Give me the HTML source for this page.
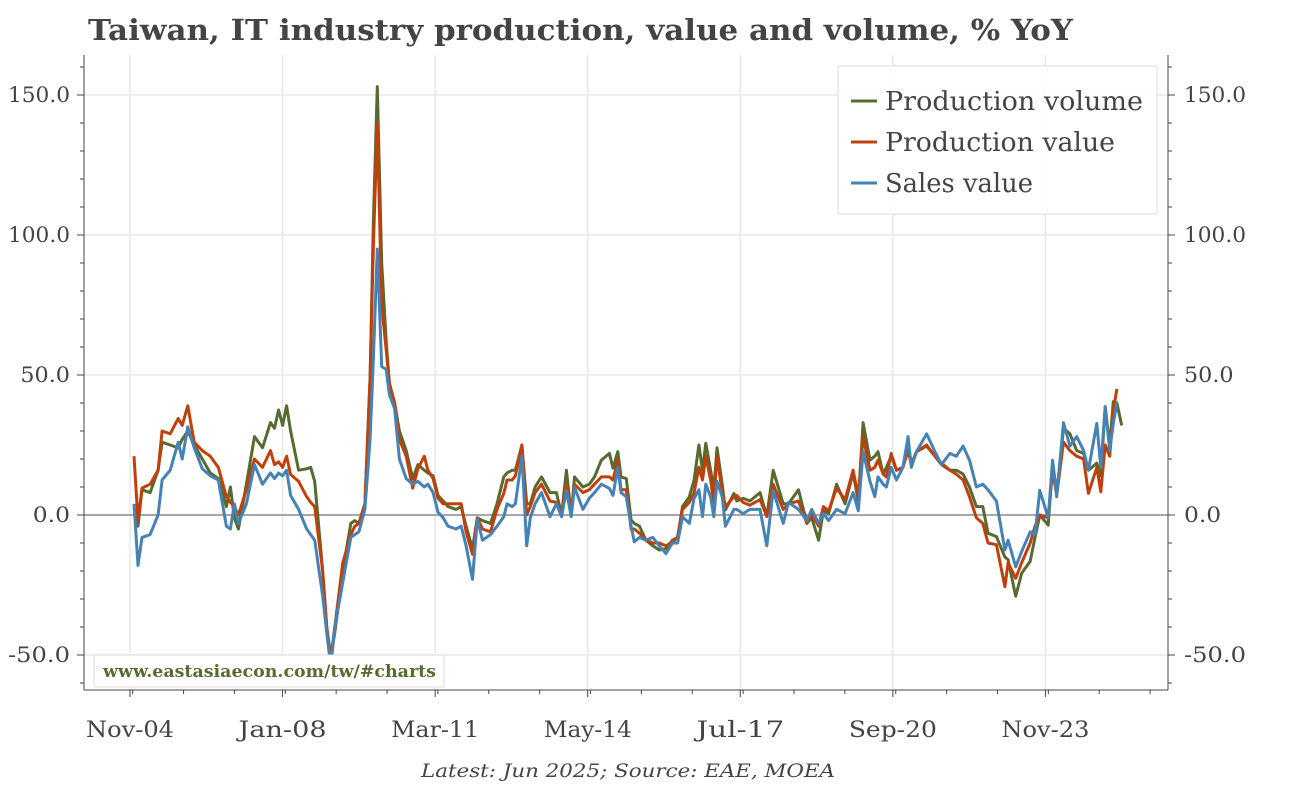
<!DOCTYPE html>
<html><head><meta charset="utf-8"><style>
html,body{margin:0;padding:0;background:#fff;}
svg{display:block;font-family:"DejaVu Serif","Liberation Serif",serif;}
</style></head><body>
<svg id="chart" width="1296" height="785" viewBox="0 0 1296 785" xmlns="http://www.w3.org/2000/svg">
<text x="88" y="40" font-size="29" font-weight="bold" fill="#444" textLength="985" lengthAdjust="spacingAndGlyphs">Taiwan, IT industry production, value and volume, % YoY</text>
<g id="grid"></g>
<g id="axes"></g>
<g id="series"></g>
<g>
<rect x="94" y="655" width="350" height="32" fill="#fff" stroke="#ddd"/>
<text x="103" y="677" font-size="16.5" font-weight="bold" fill="#556b2f" textLength="333" lengthAdjust="spacingAndGlyphs">www.eastasiaecon.com/tw/#charts</text>
</g>
<g>
<rect x="838" y="66" width="319" height="148" fill="#fff" fill-opacity="0.9" stroke="#ddd"/>
<g><line x1="851" y1="101" x2="877" y2="101" stroke="#556b2f" stroke-width="3"/><text x="885" y="110" font-size="26" fill="#444" textLength="258" lengthAdjust="spacingAndGlyphs">Production volume</text></g>
<g><line x1="851" y1="142" x2="877" y2="142" stroke="#c0400c" stroke-width="3"/><text x="885" y="151" font-size="26" fill="#444" textLength="230" lengthAdjust="spacingAndGlyphs">Production value</text></g>
<g><line x1="851" y1="183" x2="877" y2="183" stroke="#4682b4" stroke-width="3"/><text x="885" y="192" font-size="26" fill="#444" textLength="148" lengthAdjust="spacingAndGlyphs">Sales value</text></g>
</g>
<text x="628" y="777" font-size="19" font-style="italic" fill="#444" text-anchor="middle" textLength="414" lengthAdjust="spacingAndGlyphs">Latest: Jun 2025; Source: EAE, MOEA</text>
</svg>
<script>
const months=[1,2,3,5,7,8,10,12,13,14.4,16,18,20,22,24,25,26,27,29,31,33,35,36,37,38,39,40,42,44,45,46,48,49,50,51,53,55,56,57,58.5,59.8,60.6,61.6,62.7,63.8,64.6,65.9,67.1,68.8,70.4,71.7,73.3,74.2,75.5,76.7,78,79.2,81.2,82.5,83.7,85.3,86.5,87.8,89.8,91.4,93.1,93.9,95.2,96,97.6,98.8,99.7,100.9,102.5,104.6,106.2,107.5,108.7,109.9,110.7,112.8,114.4,115.7,117.4,119.4,120.3,121.5,122.3,123.6,124.8,125.6,126.9,128.5,130.2,131.8,133.5,135.1,136.4,137.6,139.3,140.5,141.7,142.6,143.4,144.6,145.4,146.2,147.5,148.3,150.4,151.1,152.7,154.4,156.9,158.6,160.2,162.7,164,166.5,168.6,169.8,171.5,172.7,174,176,178.1,180.1,181.4,182.6,184.3,185.5,186.3,187.6,188.4,189.6,190.9,192.5,193.8,194.6,195.9,198.4,200.5,202.1,204.2,205.8,207.5,209.1,210.8,212.4,213.7,215.8,217.9,218.7,220.6,222.1,224.2,225.4,226.6,228.7,229.8,230.8,232.5,234.1,235.8,237.5,238.7,240.8,241.8,242.9,244,244.9,245.8,247];
const volume=[3,-4,9,8,16,26,25,24,27,30,25,20,15,13,3,10,-1,-5,11,28,24,33,31,37.5,32,39,30,16,16.5,17,12,-20,-40,-51,-42,-20,-3,-2,-3,4,49,104,153,90,62,47,40,30,23,13,18,16,15,14,7,5,3,2,3,-4,-12,-1,-2,-3,4,13.6,15,16,16,25,4,4,10,13.6,8,8,0,16,0,13.6,10,11,13.6,19.6,22,16.7,22.6,13.6,13,-1.8,-3,-4,-9,-11,-12.5,-12,-9,-8,3,6.5,12.5,25,16,25.6,16,9,24,11,1.8,7.7,5,6,5,8,-0.5,16,4,4,9,-3,-1,-9,1.5,0.5,11,4,15,5,33,19.6,21,22.6,14.6,17,21,16,17,26,18,22.6,24.6,21,18,16,16,14.6,10,3,3,-6.5,-7.7,-15,-16,-29,-20.8,-16.5,-8,0,-3.6,18.5,7.7,31,29,23,22,16,18.5,14,38.7,24.6,40.5,40,32];
const prodValue=[21,-2,9.6,11,16,30,29,34.5,32,39,26,23,21,17,6.5,4.5,3,0,9,20,17,23,18,19,17,21,14.5,12,6.5,4.5,3,-20,-40,-51,-40,-17,-7,-4,-3,4,49,95,140,75,59,47,40,27,21,9.6,16.5,21,16,13,6,4,4,4,4,-6,-14,-1,-5,-6,2,7.7,12.5,12.5,14,25,0,3,8,11,5,4.5,1,11,1,11,8,9,11,13.6,13.6,12.5,19.6,9,9,-5,-5,-6.5,-9,-10,-10,-11,-9.6,-8,2,4.5,8,17,12.5,21,12.5,4.5,21,8,3,6.5,7,4.5,3.5,5.5,-0.5,11,2,4,5,-3,0.5,-4,3,1.5,9.5,5.5,16,6.5,28,16,17,19.6,14.6,13.6,22,16,17,23,18,22.6,25,21,18.5,16,14.6,12.5,6.5,-1,-3,-10,-10.6,-25.6,-17,-22.6,-17,-10,-4,0,-1,16,7,26,23,21,20,7.7,17,8.3,25,21,37.5,45,null];
const sales=[4,-18,-8,-7,0,12.5,16,26,20,31.5,24,16.5,14,12.5,-4,-5,4,-3,4,18,11,15,13,15,14,16,7,2,-5,-7,-9,-29,-42,-54,-40,-24,-8,-7,-6,2,27,55,95,53,52,43,38,20,13,11,12,10,11,8,1,-1,-4,-5,-4,-11,-23,-1.5,-9,-7,-4,-0.6,4,3,4,21,-11,-1,4,8,-0.6,4,-0.6,8.8,-0.6,10,2,6,8,11,9.5,7,17,8,6.5,-4,-9.6,-8,-9,-8,-11,-13.8,-10,-10,-0.6,-3,6,9,-0.6,11,6.5,-0.6,12,6.5,-4,2,2,0.5,2,2,-11,8.8,-3,4.5,2,-2,2,-3,0.5,-2,2,0.5,8,1.5,22.6,12,6.6,13.6,11,10,17,12.5,17,28,17,22.6,29,22.6,18,22,21,24.6,19.6,10,11,9,5,-12.5,-9,-18.5,-13,-6,-7,8.8,-1,19.6,6.5,33,24.6,28,23,16,32.7,17,38.7,23,32.7,40,null];
const yTicks=[-50,0,50,100,150];
const xTickMonths=[0,38,76,114,152,190,228];
const xTickLabels=["Nov-04","Jan-08","Mar-11","May-14","Jul-17","Sep-20","Nov-23"];

const NS="http://www.w3.org/2000/svg";
const L=84,R=1168,T=55,B=690;
function xs(m){return 130+m*4.015;}
function ys(v){return 515-v*2.8;}
function mk(tag,attrs,parent){const e=document.createElementNS(NS,tag);for(const k in attrs)e.setAttribute(k,attrs[k]);parent.appendChild(e);return e;}
const grid=document.getElementById('grid'),axes=document.getElementById('axes'),ser=document.getElementById('series');
yTicks.forEach(v=>{
  if(v!==0){const g=mk('line',{x1:L,x2:R,y1:ys(v),y2:ys(v),stroke:'#e8e8e8','stroke-width':1.5},grid);
  
  }
  const f=v.toFixed(1);
  const w=f.length*12.4;
  const t1=mk('text',{x:70,y:ys(v)+7,'font-size':21,fill:'#444','text-anchor':'end',textLength:w,lengthAdjust:'spacingAndGlyphs'},axes);t1.textContent=f;
  
  
  const t2=mk('text',{x:1184,y:ys(v)+7,'font-size':21,fill:'#444',textLength:w,lengthAdjust:'spacingAndGlyphs'},axes);t2.textContent=f;
  
  
  mk('line',{x1:L-7,x2:L,y1:ys(v),y2:ys(v),stroke:'#444'},axes);
  mk('line',{x1:R,x2:R+7,y1:ys(v),y2:ys(v),stroke:'#444'},axes);
});
for(let v=-60;v<=160;v+=10){if(v%50===0)continue;
  mk('line',{x1:L-4,x2:L,y1:ys(v),y2:ys(v),stroke:'#444'},axes);
  mk('line',{x1:R,x2:R+4,y1:ys(v),y2:ys(v),stroke:'#444'},axes);}
xTickMonths.forEach((m,i)=>{
  const g=mk('line',{x1:xs(m),x2:xs(m),y1:T,y2:B,stroke:'#e8e8e8','stroke-width':1.5},grid);
  
  
  mk('line',{x1:xs(m),x2:xs(m),y1:B,y2:B+7,stroke:'#444'},axes);
  const t=mk('text',{x:xs(m),y:737,'font-size':22,fill:'#444','text-anchor':'middle',textLength:88,lengthAdjust:'spacingAndGlyphs'},axes);t.textContent=xTickLabels[i];
  
  
});
for(let m=-12;m<=262;m+=12.67){const x=xs(m);if(x<L||x>R)continue;mk('line',{x1:x,x2:x,y1:B,y2:B+4,stroke:'#444'},axes);}
const z=mk('line',{x1:L,x2:R,y1:ys(0),y2:ys(0),stroke:'#8a8a8a','stroke-width':1.5},grid);


mk('line',{x1:L,x2:L,y1:T,y2:B,stroke:'#444'},axes);
mk('line',{x1:R,x2:R,y1:T,y2:B,stroke:'#444'},axes);
mk('line',{x1:L,x2:R,y1:B,y2:B,stroke:'#444'},axes);
function draw(vals,color,name){
  let d='';let started=false;
  vals.forEach((v,i)=>{if(v===null)return;d+=(started?'L':'M')+xs(months[i]).toFixed(1)+','+ys(v).toFixed(1);started=true;});
  const p=mk('path',{d:d,fill:'none',stroke:color,'stroke-width':3,'stroke-linejoin':'round'},ser);
  
  
}
draw(volume,'#556b2f','line-production-volume');
draw(prodValue,'#c0400c','line-production-value');
draw(sales,'#4682b4','line-sales-value');
</script>
</body></html>
